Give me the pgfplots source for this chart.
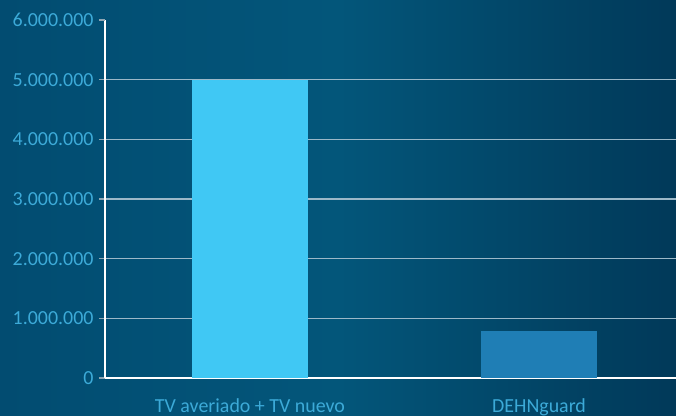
\documentclass[border=0pt]{standalone}
\usepackage{pgfplots}
\pgfplotsset{compat=1.18}
\usepackage{fontspec}
\setmainfont{Carlito}
\definecolor{bgL}{HTML}{024C71}
\definecolor{bgM}{HTML}{03567A}
\definecolor{bgR}{HTML}{013959}
\definecolor{barA}{HTML}{40C8F4}
\definecolor{barB}{HTML}{1F7EB5}
\definecolor{lab}{HTML}{3CAAD8}
\definecolor{gridc}{HTML}{9CB8C8}
\definecolor{tickc}{HTML}{8FA6B4}
\begin{document}
\begin{tikzpicture}
\path[use as bounding box, clip] (-105bp,-38bp) rectangle (571bp,378bp);
\shade[left color=bgL, right color=bgR, middle color=bgM] (-105bp,-38bp) rectangle (571bp,378bp);
\begin{axis}[
  scale only axis,
  width=571bp, height=358bp,
  xmin=-0.5017, xmax=1.474,
  ymin=0, ymax=6000000,
  axis x line*=bottom, axis y line*=left,
  axis line style={white, line width=1.6bp},
  x axis line style={-}, y axis line style={-},
  ytick={0,1000000,2000000,3000000,4000000,5000000},
  yticklabels={0,1.000.000,2.000.000,3.000.000,4.000.000,5.000.000},
  extra y ticks={6000000},
  extra y tick labels={6.000.000},
  extra y tick style={grid=none},
  xtick={0,1},
  xticklabels={TV averiado + TV nuevo, DEHNguard},
  extra x ticks={0.5},
  extra x tick labels={},
  extra x tick style={major tick length=6bp, tick style={tickc, line width=0.8bp}, grid=none},
  x tick style={draw=none},
  y tick style={tickc, line width=1.2bp},
  tick align=outside,
  major tick length=6bp,
  ymajorgrids,
  grid style={gridc, line width=1.2bp},
  every tick label/.append style={font=\fontsize{20}{23}\selectfont, text=lab},
  yticklabel style={xshift=-2bp},
  xticklabel style={yshift=-11bp},
  scaled y ticks=false,
  ybar, bar width=0.401,
  axis on top=false,
  clip=false,
]
\addplot[fill=barA, draw=none, bar shift=0pt] coordinates {(0,5000000)};
\addplot[fill=barB, draw=none, bar shift=0pt] coordinates {(1,790000)};
\end{axis}
\end{tikzpicture}
\end{document}
